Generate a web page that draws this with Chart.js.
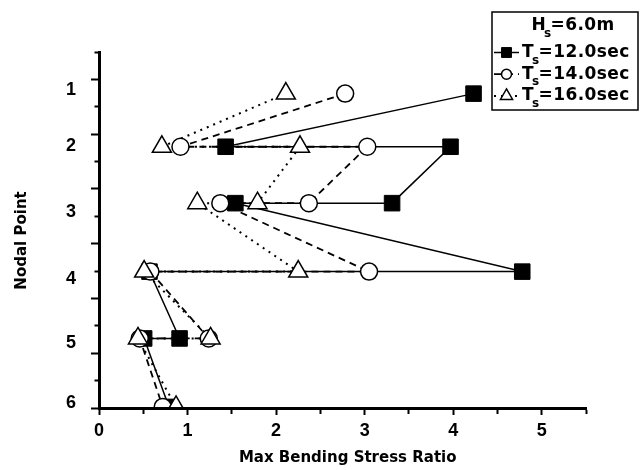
<!DOCTYPE html>
<html>
<head>
<meta charset="utf-8">
<script src="https://cdn.jsdelivr.net/npm/chart.js@4.4.1/dist/chart.umd.min.js"></script>
<style>
  html, body { margin: 0; padding: 0; background: #fff; }
  #chart { display: block; }
</style>
</head>
<body>
<canvas id="chart" width="640" height="470"></canvas>
<script>
// nodal rows: label text, where the label sits, and where the points sit
const nodeLabels = ['1', '2', '3', '4', '5', '6'];
const nodeLabelPos = [0.70, 1.72, 2.92, 4.15, 5.32, 6.41];
const nodeRowPos = [0.76, 1.73, 2.76, 4.01, 5.23, 6.48];
// row of each plotted value (nodes 2-5 carry two values each)
const pointRow = [0, 1, 1, 2, 2, 3, 3, 4, 4, 5];

const xTickLabels = ['0', '1', '2', '3', '4', '5'];

// max bending stress ratio
const ts12 = [4.23, 1.43, 3.97, 3.31, 1.54, 4.78, 0.57, 0.91, 0.51, 0.79];
const ts14 = [2.78, 0.92, 3.03, 2.37, 1.37, 3.05, 0.58, 1.24, 0.46, 0.72];
const ts16 = [2.11, 0.71, 2.27, 1.79, 1.11, 2.25, 0.51, 1.26, 0.44, 0.87];

const waveHeight = '6.0m';
const periods = ['12.0', '14.0', '16.0'];

function toPoints(vals) {
    return vals.map((v, i) => ({ x: v, y: nodeRowPos[pointRow[i]] }));
}

const styles = [
    { dash: [], width: 1.5, pointStyle: 'rect', radius: 11, fill: '#000', border: 1, legendRadius: 7 },
    { dash: [7, 5], width: 1.8, pointStyle: 'circle', radius: 8.5, fill: '#fff', border: 1.5, legendRadius: 5 },
    { dash: [2, 5], width: 2, pointStyle: 'triangle', radius: 11, fill: '#fff', border: 1.5, legendRadius: 7 }
];
const series = [ts12, ts14, ts16];

let datasets = [];
series.forEach((vals, i) => {
    const s = styles[i];
    // line part, kept under every marker
    datasets.push({
        data: toPoints(vals),
        showLine: true,
        borderColor: '#000',
        borderWidth: s.width,
        borderDash: s.dash,
        pointRadius: 0,
        tension: 0,
        fill: false,
        order: 10 + i
    });
    // markers: triangles on top, then circles, then squares
    datasets.push({
        data: toPoints(vals),
        showLine: false,
        pointStyle: s.pointStyle,
        pointRadius: s.radius,
        pointBackgroundColor: s.fill,
        pointBorderColor: '#000',
        pointBorderWidth: s.border,
        clip: 0,
        order: i === 0 ? 3 : (i === 1 ? 2 : 1)
    });
});

function drawSubText(ctx, x, y, main, sub, rest, size) {
    ctx.font = 'bold ' + size + 'px "DejaVu Sans"';
    ctx.fillText(main, x, y);
    const w1 = ctx.measureText(main).width;
    ctx.font = 'bold ' + Math.round(size * 0.68) + 'px "DejaVu Sans"';
    ctx.fillText(sub, x + w1 - 2, y + 8);
    const w2 = ctx.measureText(sub).width;
    ctx.font = 'bold ' + size + 'px "DejaVu Sans"';
    ctx.fillText(rest, x + w1 + w2 - 3, y);
    return w1 + w2 - 3 + ctx.measureText(rest).width;
}

const boxLegend = {
    id: 'boxLegend',
    afterDraw(chart) {
        const ctx = chart.ctx;
        const h = Chart.helpers;
        ctx.save();
        ctx.fillStyle = '#fff';
        ctx.fillRect(492, 12, 146, 98);
        ctx.strokeStyle = '#000';
        ctx.lineWidth = 1.5;
        ctx.strokeRect(492, 12, 146, 98);

        ctx.fillStyle = '#000';
        ctx.textBaseline = 'middle';
        ctx.textAlign = 'left';
        try { ctx.letterSpacing = '0.4px'; } catch (e) {}
        // headline, measured first so it can be centred
        ctx.globalAlpha = 0;
        const tw = drawSubText(ctx, 0, -50, 'H', 's', '=' + waveHeight, 17);
        ctx.globalAlpha = 1;
        drawSubText(ctx, 573 - tw / 2, 26, 'H', 's', '=' + waveHeight, 17);

        periods.forEach((p, i) => {
            const s = styles[i];
            const y = 52.5 + i * 21.7;
            ctx.save();
            ctx.setLineDash(s.dash);
            ctx.lineWidth = s.width;
            ctx.beginPath();
            ctx.moveTo(494, y);
            ctx.lineTo(519, y);
            ctx.stroke();
            ctx.restore();
            ctx.fillStyle = s.fill;
            ctx.strokeStyle = '#000';
            ctx.lineWidth = s.border;
            if (h && h.drawPoint) {
                h.drawPoint(ctx, { pointStyle: s.pointStyle, radius: s.legendRadius, borderWidth: s.border, rotation: 0 }, 506.5, y);
            }
            ctx.fillStyle = '#000';
            drawSubText(ctx, 522, y, 'T', 's', '=' + p + 'sec', 17);
        });
        ctx.restore();
    }
};

const tickFont = { family: '"Liberation Sans", Arial, sans-serif', size: 18, weight: 'bold' };
const titleFont = { family: '"DejaVu Sans", sans-serif', size: 15, weight: 'bold' };

new Chart(document.getElementById('chart'), {
    type: 'scatter',
    data: { datasets: datasets },
    options: {
        responsive: false,
        animation: false,
        events: [],
        layout: { padding: { top: 52, right: 54, left: 0, bottom: 0 } },
        plugins: {
            legend: { display: false },
            tooltip: { enabled: false }
        },
        scales: {
            x: {
                type: 'linear',
                min: 0,
                max: 5.5,
                afterBuildTicks: scale => {
                    const ticks = [];
                    for (let k = 0; k <= 11; k++) {
                        const v = k / 2;
                        ticks.push(k % 2 === 0 ? { value: v, kind: 'major', name: xTickLabels[k / 2] } : { value: v, kind: 'minor' });
                    }
                    scale.ticks = ticks;
                },
                afterFit: scale => {
                    scale.height = 62;
                    scale.paddingLeft = 0;
                    scale.paddingRight = 0;
                },
                ticks: {
                    autoSkip: false,
                    maxRotation: 0,
                    padding: 5,
                    color: '#000',
                    font: tickFont,
                    callback: (v, i, ticks) => ticks[i].name || ''
                },
                grid: {
                    drawOnChartArea: false,
                    drawTicks: true,
                    tickLength: 7,
                    tickWidth: 2,
                    tickColor: '#000',
                    tickBorderDash: c => (c.tick && c.tick.kind === 'minor') ? [4, 100] : []
                },
                border: { display: true, color: '#000', width: 3, z: 1 },
                title: {
                    display: true,
                    text: '  Max Bending Stress Ratio',
                    color: '#000',
                    font: titleFont,
                    padding: { top: 0, bottom: 3 }
                }
            },
            y: {
                type: 'linear',
                reverse: true,
                min: 0,
                max: 6.5,
                afterBuildTicks: scale => {
                    const ticks = [];
                    for (let k = 0; k <= 13; k++) {
                        ticks.push({ value: k / 2, kind: k % 2 === 1 ? 'major' : 'minor' });
                    }
                    nodeLabels.forEach((t, i) => ticks.push({ value: nodeLabelPos[i], kind: 'label', name: t }));
                    ticks.sort((a, b) => a.value - b.value);
                    scale.ticks = ticks;
                },
                afterFit: scale => {
                    scale.width = 99;
                    scale.paddingTop = 0;
                    scale.paddingBottom = 0;
                },
                ticks: {
                    autoSkip: false,
                    padding: 15,
                    color: '#000',
                    font: tickFont,
                    callback: (v, i, ticks) => ticks[i].name || ''
                },
                grid: {
                    drawOnChartArea: false,
                    drawTicks: true,
                    tickLength: 8,
                    tickWidth: 2,
                    tickColor: c => (c.tick && c.tick.kind === 'label') ? 'rgba(0,0,0,0)' : '#000',
                    tickBorderDash: c => (c.tick && c.tick.kind === 'minor') ? [0, 3.5, 20] : []
                },
                border: { display: true, color: '#000', width: 3, z: 1 },
                title: {
                    display: true,
                    text: 'Nodal Point    ',
                    color: '#000',
                    font: titleFont,
                    padding: { top: 13, bottom: 0 }
                }
            }
        }
    },
    plugins: [boxLegend]
});
</script>
</body>
</html>
